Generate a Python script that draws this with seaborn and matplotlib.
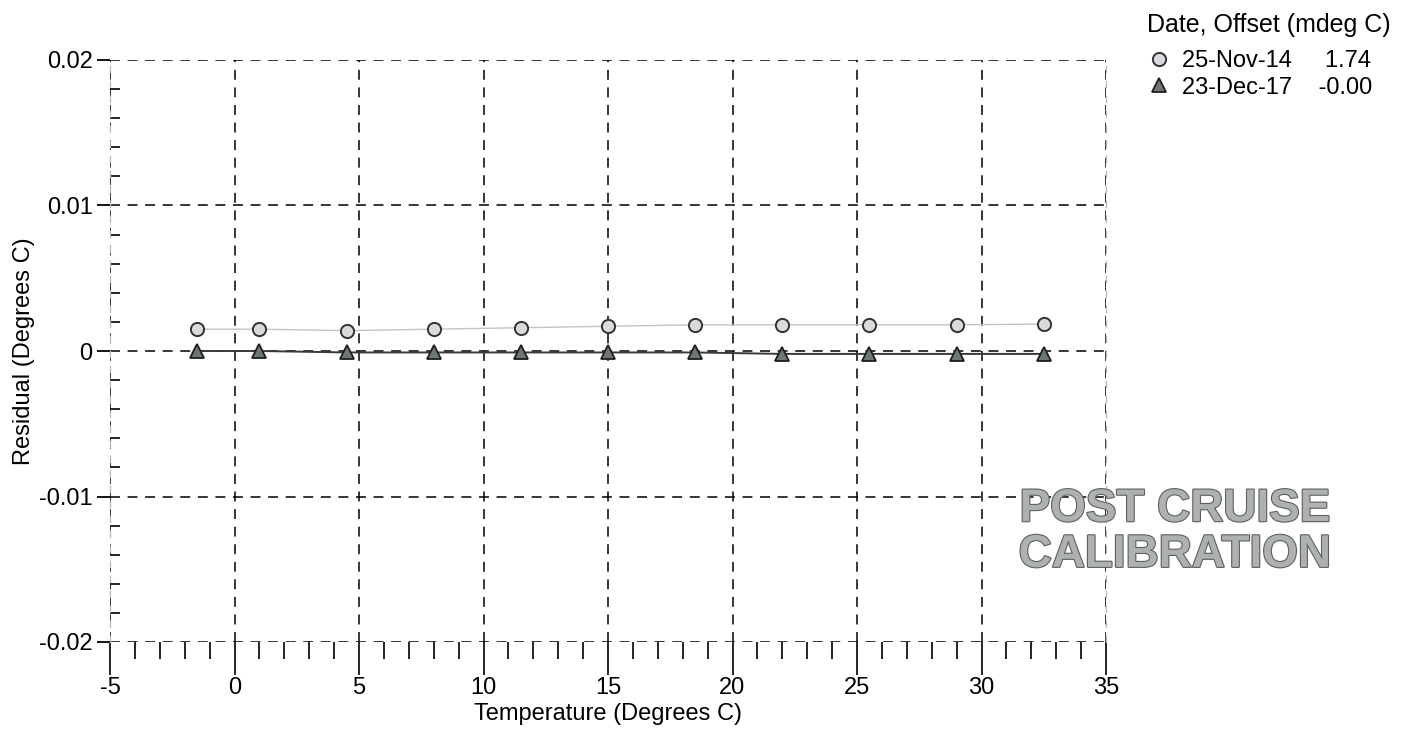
import matplotlib
matplotlib.use('Agg')
import matplotlib.pyplot as plt
import matplotlib.patheffects as pe
from matplotlib.lines import Line2D
from matplotlib.ticker import MultipleLocator, FuncFormatter
import seaborn as sns
import pandas as pd

temps = [-1.5, 1.0, 4.5, 8.0, 11.5, 15.0, 18.5, 22.0, 25.5, 29.0, 32.5]
resid_2014 = [0.0015, 0.0015, 0.0014, 0.0015, 0.0016, 0.0017, 0.0018, 0.0018, 0.0018, 0.0018, 0.00185]
resid_2017 = [0.0000, 0.0000, -0.0001, -0.0001, -0.0001, -0.0001, -0.0001, -0.0002, -0.0002, -0.0002, -0.0002]
labels = ["25-Nov-14     1.74", "23-Dec-17    -0.00"]
legend_title = "Date, Offset (mdeg C)"

df14 = pd.DataFrame({"t": temps, "r": resid_2014})
df17 = pd.DataFrame({"t": temps, "r": resid_2017})

sns.set_style("white")
plt.rcParams['font.family'] = ['Liberation Sans', 'DejaVu Sans']
plt.rcParams['axes.unicode_minus'] = False
plt.rcParams['text.color'] = 'black'
plt.rcParams['axes.labelcolor'] = 'black'
plt.rcParams['xtick.color'] = 'black'
plt.rcParams['ytick.color'] = 'black'

fig = plt.figure(figsize=(14.11, 7.34), dpi=100)
ax = fig.add_axes([110/1411, 1 - 642/734, 996/1411, 582/734])

circ_style = dict(marker="o", markersize=9.5, markerfacecolor="#d9d9de",
                  markeredgecolor="#333333", markeredgewidth=1.4)
tri_style = dict(marker="^", markersize=10, markerfacecolor="#6e7872",
                 markeredgecolor="#1e1e1e", markeredgewidth=1.3)

sns.lineplot(data=df14, x="t", y="r", ax=ax, color="#c4c4c4", linewidth=1, zorder=4, **circ_style)
sns.lineplot(data=df17, x="t", y="r", ax=ax, color="#3a3a3a", linewidth=1.4, zorder=4, **tri_style)

ax.set_xlim(-5, 35)
ax.set_ylim(-0.02, 0.02)
ax.xaxis.set_major_locator(MultipleLocator(5))
ax.xaxis.set_minor_locator(MultipleLocator(1))
ax.yaxis.set_major_locator(MultipleLocator(0.01))
ax.yaxis.set_minor_locator(MultipleLocator(0.002))
ax.yaxis.set_major_formatter(FuncFormatter(lambda v, p: "0" if abs(v) < 1e-9 else f"{v:.2f}"))
ax.xaxis.set_major_formatter(FuncFormatter(lambda v, p: f"{v:.0f}"))

ax.grid(True, which="major", color="black", linestyle=(0, (6.5, 5)), linewidth=1.1)
xticks = ax.xaxis.get_major_ticks()
xticks[0].gridline.set_visible(False)
xticks[-1].gridline.set_visible(False)

for side in ["top", "bottom"]:
    ax.spines[side].set_visible(False)
for side in ["left", "right"]:
    ax.spines[side].set_color("#b8b8b8")
    ax.spines[side].set_linestyle((0, (5, 7)))
    ax.spines[side].set_linewidth(0.9)

# lengths in points (1 pt = 1.39 px at dpi 100)
ax.tick_params(axis="y", which="major", direction="out", length=9.5, width=1.3,
               color="black", labelsize=17, pad=3, left=True)
ax.tick_params(axis="x", which="major", direction="out", length=24, width=1.2,
               color="black", labelsize=17, pad=1, bottom=True)
ax.tick_params(axis="y", which="minor", direction="in", length=7, width=1.2,
               color="black", left=True)
ax.tick_params(axis="x", which="minor", direction="out", length=12, width=1.2,
               color="black", bottom=True)

ax.set_xlabel("Temperature (Degrees C)", fontsize=17, labelpad=3)
ax.set_ylabel("Residual (Degrees C)", fontsize=17, labelpad=3)

fig.text(1147/1411, 1 - 25/734, legend_title, ha="left", va="center", fontsize=18)
handles = [Line2D([], [], linestyle="none", **circ_style),
           Line2D([], [], linestyle="none", **tri_style)]
leg = fig.legend(handles, labels, loc="upper left",
                 bbox_to_anchor=(1147/1411, 1 - 50/734), frameon=False, fontsize=17,
                 handlelength=1.0, handletextpad=0.5,
                 labelspacing=0.2, borderpad=0, borderaxespad=0)

fig.text(1175/1411, 1 - 532/734, "POST CRUISE\nCALIBRATION", ha="center", va="center",
         fontsize=33, fontweight="bold", color="#aeb2ae", linespacing=1.05,
         path_effects=[pe.withStroke(linewidth=1.6, foreground="#5e605e")], zorder=10)

fig.savefig("out.png", dpi=100)
